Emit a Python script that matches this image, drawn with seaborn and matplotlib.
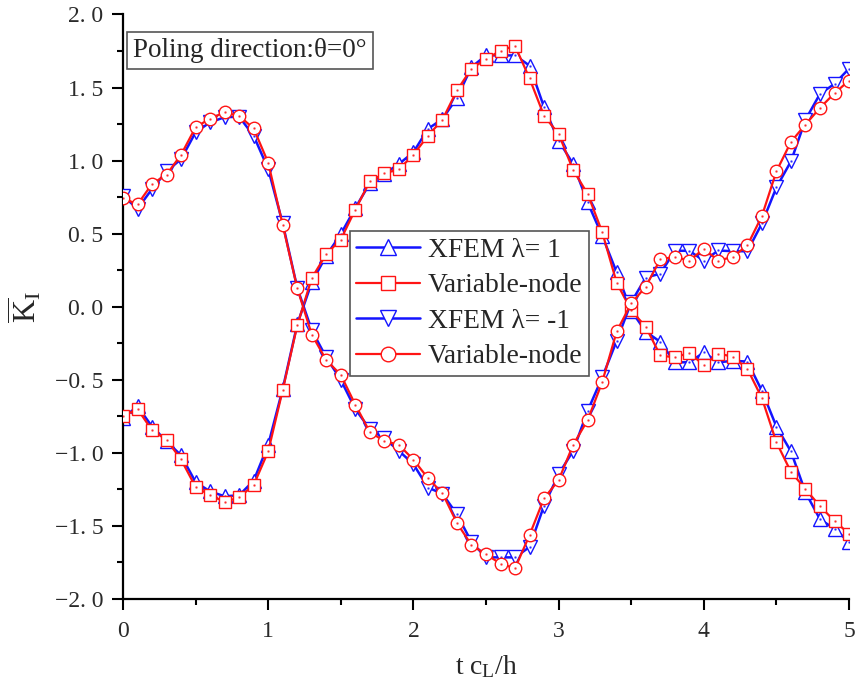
import numpy as np
import pandas as pd
import matplotlib
matplotlib.use("Agg")
import matplotlib.pyplot as plt
from matplotlib.ticker import MultipleLocator, FuncFormatter
from matplotlib.lines import Line2D
import seaborn as sns

# Normalized time t*cL/h
t_cl_h = [0.0, 0.1, 0.2, 0.3, 0.4, 0.5, 0.6, 0.7, 0.8, 0.9,
          1.0, 1.1, 1.2, 1.3, 1.4, 1.5, 1.6, 1.7, 1.8, 1.9,
          2.0, 2.1, 2.2, 2.3, 2.4, 2.5, 2.6, 2.7, 2.8, 2.9,
          3.0, 3.1, 3.2, 3.3, 3.4, 3.5, 3.6, 3.7, 3.8, 3.9,
          4.0, 4.1, 4.2, 4.3, 4.4, 4.5, 4.6, 4.7, 4.8, 4.9, 5.0]

# Normalized SIF K_I, XFEM with lambda = 1
xfem_pos = [-0.763, -0.68, -0.82, -0.92, -1.017, -1.20, -1.264, -1.297, -1.29, -1.19,
            -0.945, -0.562, -0.12, 0.166, 0.35, 0.497, 0.676, 0.845, 0.91, 0.977,
            1.057, 1.217, 1.285, 1.43, 1.64, 1.72, 1.72, 1.72, 1.65, 1.365,
            1.137, 0.977, 0.714, 0.486, 0.235, -0.027, -0.17, -0.24, -0.38, -0.38,
            -0.313, -0.38, -0.37, -0.375, -0.575, -0.82, -0.99, -1.27, -1.454, -1.52, -1.61]

# Variable-node element, lambda = 1
vnode_pos = [-0.75, -0.70, -0.845, -0.91, -1.045, -1.233, -1.29, -1.335, -1.305, -1.22,
             -0.99, -0.57, -0.128, 0.196, 0.36, 0.46, 0.665, 0.858, 0.913, 0.94,
             1.04, 1.17, 1.28, 1.48, 1.63, 1.694, 1.753, 1.786, 1.562, 1.306,
             1.183, 0.936, 0.772, 0.512, 0.164, -0.025, -0.137, -0.333, -0.347, -0.315,
             -0.40, -0.32, -0.342, -0.425, -0.625, -0.927, -1.13, -1.247, -1.365, -1.466, -1.553]

# XFEM with lambda = -1
xfem_neg = [0.76, 0.67, 0.806, 0.927, 1.01, 1.194, 1.262, 1.297, 1.30, 1.17,
            0.943, 0.57, 0.13, -0.16, -0.347, -0.50, -0.70, -0.838, -0.90, -0.986,
            -1.077, -1.237, -1.28, -1.42, -1.61, -1.715, -1.715, -1.715, -1.644, -1.36,
            -1.146, -0.986, -0.712, -0.484, -0.233, 0.03, 0.20, 0.226, 0.383, 0.383,
            0.315, 0.385, 0.38, 0.38, 0.57, 0.817, 0.995, 1.279, 1.457, 1.525, 1.63]

# Variable-node element, lambda = -1
vnode_neg = [0.744, 0.70, 0.84, 0.904, 1.04, 1.228, 1.288, 1.33, 1.306, 1.22,
             0.986, 0.56, 0.128, -0.19, -0.365, -0.466, -0.67, -0.858, -0.918, -0.945,
             -1.046, -1.173, -1.276, -1.48, -1.63, -1.694, -1.758, -1.79, -1.562, -1.31,
             -1.187, -0.945, -0.776, -0.516, -0.169, 0.023, 0.137, 0.324, 0.342, 0.315,
             0.397, 0.315, 0.342, 0.42, 0.621, 0.927, 1.128, 1.247, 1.361, 1.461, 1.548]

series_labels = ["XFEM \u03bb= 1", "Variable-node", "XFEM \u03bb= -1", "Variable-node"]

sns.set_theme(style="ticks")
plt.rcParams["font.family"] = ["Liberation Serif", "DejaVu Serif"]
plt.rcParams["mathtext.fontset"] = "custom"
plt.rcParams["mathtext.rm"] = "Liberation Serif"
plt.rcParams["mathtext.it"] = "Liberation Serif:italic"

BLUE = "#1414ff"
RED = "#ff1414"

fig = plt.figure(figsize=(8.57, 6.93), dpi=100)
ax = fig.add_axes([0.1435, 0.1356, 0.8472, 0.8435])

styles = [
    (xfem_pos, BLUE, "^", 10, 1.8),
    (vnode_pos, RED, "s", 8.2, 1.6),
    (xfem_neg, BLUE, "v", 10, 1.8),
    (vnode_neg, RED, "o", 9, 1.6),
]

handles = []
for i, ((vals, color, mk, ms, lw), lab) in enumerate(zip(styles, series_labels)):
    df = pd.DataFrame({"t": t_cl_h, "K": vals})
    z = 2 + 2 * i
    sns.lineplot(data=df, x="t", y="K", ax=ax, color=color, linewidth=lw,
                 marker=mk, markersize=ms, markerfacecolor="white",
                 markeredgecolor=color, markeredgewidth=1.0, legend=False, zorder=z)
    # small centre dot inside each hollow symbol
    ax.plot(df["t"], df["K"], linestyle="none", marker=".", markersize=1.6,
            color=color, alpha=0.7, zorder=z + 1)
    handles.append(Line2D([], [], color=color, linewidth=lw, marker=mk,
                          markersize=ms + 1.5, markerfacecolor="white",
                          markeredgecolor=color, markeredgewidth=1.0, label=lab))

ax.set_xlim(0, 5)
ax.set_ylim(-2.0, 2.0)
ax.xaxis.set_major_locator(MultipleLocator(1))
ax.xaxis.set_minor_locator(MultipleLocator(0.5))
ax.yaxis.set_major_locator(MultipleLocator(0.5))
ax.yaxis.set_minor_locator(MultipleLocator(0.25))
ax.yaxis.set_major_formatter(FuncFormatter(
    lambda v, p: ("\u2212" if v < -1e-9 else "") + f"{abs(v):.1f}".replace(".", ". ")))
ax.xaxis.set_major_formatter(FuncFormatter(lambda v, p: f"{v:.0f}"))

sns.despine(ax=ax)
for side in ("left", "bottom"):
    ax.spines[side].set_linewidth(1.6)
    ax.spines[side].set_color("black")

ax.tick_params(axis="both", which="major", direction="out", length=8, width=1.5,
               labelsize=17, color="black", labelcolor="#2a2a2a")
ax.tick_params(axis="both", which="minor", direction="out", length=4, width=1.5,
               color="black")
ax.tick_params(axis="x", which="major", pad=8)
ax.tick_params(axis="y", which="major", pad=6)

ax.set_xlabel(r"$\mathrm{t\ c_L/h}$", fontsize=20, labelpad=8)
ax.set_ylabel(r"$\overline{\mathrm{K}}_\mathrm{I}$", fontsize=23, labelpad=8)

ax.text(0.0143, 0.9384, "Poling direction:\u03b8=0\u00b0", transform=ax.transAxes,
        fontsize=19.5, ha="left", va="center", zorder=20,
        bbox=dict(boxstyle="square,pad=0.23", facecolor="white", edgecolor="#555555",
                  linewidth=1.2))

leg = ax.legend(handles=handles, loc="center", bbox_to_anchor=(0.4773, 0.5056),
                fontsize=19.8, frameon=True, fancybox=False, edgecolor="#555555",
                framealpha=1.0, handlelength=2.3, handletextpad=0.3,
                labelspacing=0.37, borderpad=0.25, borderaxespad=0.0)
leg.get_frame().set_linewidth(1.2)
leg.set_zorder(20)

fig.savefig("out.png", dpi=100)
